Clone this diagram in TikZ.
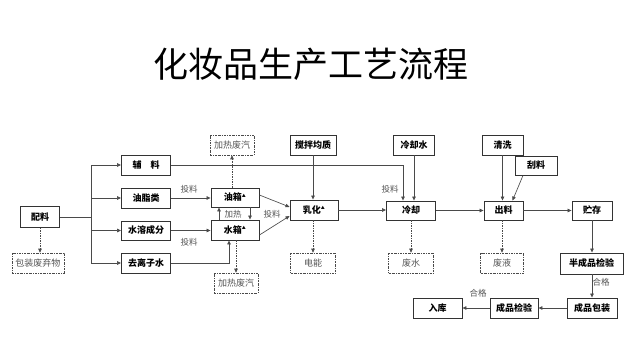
\documentclass[tikz,border=0pt]{standalone}
\usepackage{fontspec}
\setmainfont{Noto Sans CJK SC}
\usetikzlibrary{arrows.meta}
\definecolor{ln}{HTML}{4A4A4A}
\definecolor{bd}{HTML}{333333}
\definecolor{gt}{HTML}{555555}
\tikzset{
  box/.style={draw=bd, line width=0.9pt, fill=white, minimum height=20pt, inner sep=0pt, font=\fontsize{9}{10}\selectfont\bfseries, text=black},
  dbox/.style={draw=ln, line width=0.6pt, dash pattern=on 2pt off 1pt on 0.6pt off 1pt, minimum height=20pt, inner sep=0pt, font=\fontsize{9}{10}\selectfont, text=gt},
  arr/.style={draw=ln, line width=0.65pt, -{Triangle[length=4pt,width=3.5pt]}},
  darr/.style={draw=ln, line width=0.6pt, dash pattern=on 1.5pt off 1pt, -{Triangle[length=4pt,width=3.5pt]}},
  plain/.style={draw=ln, line width=0.65pt},
  lbl/.style={font=\fontsize{8.5}{9}\selectfont, text=gt, inner sep=0pt},
}
\newcommand{\mk}{\textsuperscript{\fontsize{4}{4}\selectfont ▲}}
\begin{document}
\begin{tikzpicture}[x=1pt,y=-1pt]
\useasboundingbox[fill=white] (0,0) rectangle (635,350);
\node[font=\fontsize{35}{38}\selectfont] (title) at (311,64) {化妆品生产工艺流程};

\node[box, minimum width=39pt, minimum height=21pt] (peiliao) at (40,217) {配料};
\node[dbox, minimum width=52pt] (baozhuang) at (38,263) {包装废弃物};
\node[box, minimum width=49pt] (fuliao) at (146,165) {辅\quad 料};
\node[box, minimum width=49pt] (youzhi) at (146,198) {油脂类};
\node[box, minimum width=49pt, minimum height=19pt] (shuirong) at (146,230.5) {水溶成分};
\node[box, minimum width=49pt] (quli) at (146,263) {去离子水};
\node[dbox, minimum width=44pt] (jrfq1) at (232,145) {加热废汽};
\node[box, minimum width=48pt, minimum height=19pt] (youxiang) at (235,197.5) {油箱\mk};
\node[box, minimum width=48pt] (shuixiang) at (235,230) {水箱\mk};
\node[dbox, minimum width=44pt] (jrfq2) at (236,283) {加热废汽};
\node[box, minimum width=48pt] (ruhua) at (314,210) {乳化\mk};
\node[box, minimum width=46pt] (jiaoban) at (313,145) {搅拌均质};
\node[dbox, minimum width=45pt] (dianneng) at (313,263) {电能};
\node[box, minimum width=41pt] (lqs) at (414,145) {冷却水};
\node[box, minimum width=49pt, minimum height=19pt] (lengque) at (411,210.5) {冷却};
\node[dbox, minimum width=45pt] (feishui) at (411,263) {废水};
\node[box, minimum width=41pt] (qingxi) at (502.5,145) {清洗};
\node[box, minimum width=42pt, minimum height=19pt] (guaoliao) at (536,165.5) {刮料};
\node[box, minimum width=39pt, minimum height=19pt] (chuliao) at (503.5,210.5) {出料};
\node[dbox, minimum width=43pt] (feiye) at (502,263) {废液};
\node[box, minimum width=40pt, minimum height=19pt] (zhucun) at (592,210.5) {贮存};
\node[box, minimum width=63pt, minimum height=21pt] (bcp) at (591.5,263.5) {半成品检验};
\node[box, minimum width=50pt] (cpbz) at (592,308) {成品包装};
\node[box, minimum width=48pt] (cpjy) at (514,308) {成品检验};
\node[box, minimum width=49pt] (ruku) at (437.5,308) {入库};

% branch from 配料
\coordinate (br) at (91,217);
\draw[plain] (peiliao.east) -- (br);
\draw[arr] (br) |- (fuliao.west);
\draw[arr] (br) |- (youzhi.west);
\draw[arr] (br) |- (shuirong.west);
\draw[arr] (br) |- (quli.west);
\draw[darr] (peiliao.south) -- (peiliao.south |- baozhuang.north);

% to tanks
\draw[arr] (youzhi.east) -- (youzhi.east -| youxiang.west);
\node[lbl] (tl1) at (189,189) {投料};
\draw[arr] (shuirong.east) -- (shuirong.east -| shuixiang.west);
\node[lbl] (tl2) at (189,242) {投料};
\draw[arr] (quli.east) -| ([xshift=-6pt]shuixiang.south);
\draw[darr] (youxiang.north -| jrfq1.south) -- (jrfq1.south);
\draw[darr] (shuixiang.south -| jrfq2.north) -- (jrfq2.north);
\draw[arr] ([xshift=-16pt]shuixiang.north) -- ([xshift=-16pt]youxiang.south);
\draw[arr] ([xshift=15pt]youxiang.south) -- ([xshift=15pt]shuixiang.north);
\node[lbl] (jr) at (233,214) {加热};

% to emulsify
\draw[arr] ([yshift=2.5pt]youxiang.east) -- ([yshift=3pt]ruhua.west);
\draw[arr] ([yshift=-5pt]shuixiang.east) -- ([yshift=-6pt]ruhua.west);
\node[lbl] (tl3) at (272,214) {投料};
\draw[arr] (jiaoban.south) -- (jiaoban.south |- ruhua.north);
\draw[darr] (ruhua.south -| dianneng.north) -- (dianneng.north);
\draw[arr] (ruhua.east) -- (ruhua.east -| lengque.west);

% cooling
\draw[arr] (fuliao.east) -| ([xshift=-8pt]lengque.north);
\node[lbl] (tl4) at (390,189) {投料};
\draw[arr] (lqs.south) -- (lqs.south |- lengque.north);
\draw[darr] (lengque.south -| feishui.north) -- (feishui.north);
\draw[arr] (lengque.east) -- (lengque.east -| chuliao.west);

% discharge
\draw[arr] (qingxi.south) -- (qingxi.south |- chuliao.north);
\draw[arr] ([xshift=-13pt]guaoliao.south) -- ([xshift=9pt]chuliao.north);
\draw[darr] (chuliao.south -| feiye.north) -- (feiye.north);
\draw[arr] (chuliao.east) -- (chuliao.east -| zhucun.west);

% storage & inspection
\draw[arr] (zhucun.south) -- (zhucun.south |- bcp.north);
\draw[arr] (bcp.south -| cpbz.north) -- (cpbz.north);
\node[lbl] (hg1) at (601,282) {合格};
\draw[arr] (cpbz.west) -- (cpjy.east);
\draw[arr] (cpjy.west) -- (ruku.east);
\node[lbl] (hg2) at (478,293) {合格};
\end{tikzpicture}
\end{document}
